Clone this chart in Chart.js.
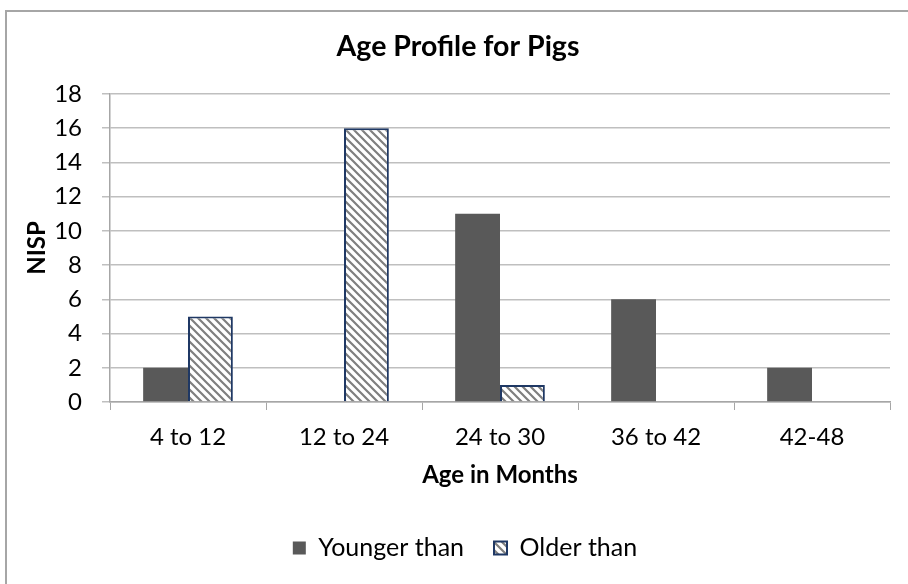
<!DOCTYPE html>
<html>
<head>
<meta charset="utf-8">
<script src="https://cdn.jsdelivr.net/npm/chart.js@4.4.1/dist/chart.umd.min.js"></script>
<style>
  html, body { margin: 0; padding: 0; background: #fff; overflow: hidden; }
  #wrap { position: relative; width: 908px; height: 584px; overflow: hidden; }
  #frame { position: absolute; left: 5px; top: 10px; width: 1000px; height: 1000px;
           border-left: 2px solid #a6a6a6; border-top: 2px solid #a6a6a6; box-sizing: border-box; }
  canvas { position: absolute; left: 0; top: 0; }
</style>
</head>
<body>
<div id="wrap">
  <div id="frame"></div>
  <canvas id="c" width="908" height="584"></canvas>
</div>
<script>
// Age classes (months) and bone counts per class
const categories = ['4 to 12', '12 to 24', '24 to 30', '36 to 42', '42-48'];
const youngerThan = [2, 0, 11, 6, 2];
const olderThan = [5, 16, 1, 0, 0];
const yTicks = [0, 2, 4, 6, 8, 10, 12, 14, 16, 18];

const FONT = 'Lato, "Liberation Sans", sans-serif';

// Diagonal hatch fill for the "Older than" series
function hatchPattern() {
  const s = 8;
  const p = document.createElement('canvas');
  p.width = s; p.height = s;
  const g = p.getContext('2d');
  g.fillStyle = '#ffffff';
  g.fillRect(0, 0, s, s);
  g.strokeStyle = '#7f7f7f';
  g.lineWidth = 2.2;
  g.beginPath();
  g.moveTo(-2, -2); g.lineTo(s + 2, s + 2);
  g.moveTo(-2, s - 2); g.lineTo(2, s + 2);
  g.moveTo(s - 2, -2); g.lineTo(s + 2, 2);
  g.stroke();
  return g.createPattern(p, 'repeat');
}

// Centre the title and legend on the framed chart rather than the canvas
const boxShift = {
  id: 'boxShift',
  afterLayout(chart) {
    if (chart.titleBlock) { chart.titleBlock.left += 26; }
    if (chart.legend) { chart.legend.left += 20; chart.legend.right += 20; }
  }
};

const ctx = document.getElementById('c').getContext('2d');
const hatch = hatchPattern();

new Chart(ctx, {
  type: 'bar',
  data: {
    labels: categories,
    datasets: [
      {
        label: 'Younger than',
        data: youngerThan,
        backgroundColor: '#595959',
        borderWidth: 0,
        barPercentage: 1.0,
        categoryPercentage: 0.575
      },
      {
        label: 'Older than',
        data: olderThan,
        backgroundColor: hatch,
        borderColor: '#1f3864',
        borderWidth: 2,
        barPercentage: 1.0,
        categoryPercentage: 0.575
      }
    ]
  },
  plugins: [boxShift],
  options: {
    responsive: false,
    animation: false,
    layout: { padding: { left: 0, right: 18, top: 0, bottom: 13.5 } },
    plugins: {
      title: {
        display: true,
        text: 'Age Profile for Pigs',
        color: '#000',
        font: { family: FONT, size: 28.5, weight: 'bold' },
        padding: { top: 30, bottom: 29.8 }
      },
      legend: {
        position: 'bottom',
        labels: {
          color: '#000',
          font: { family: FONT, size: 25 },
          boxWidth: 13,
          boxHeight: 13,
          padding: 30
        }
      },
      tooltip: { enabled: false }
    },
    scales: {
      x: {
        grid: {
          drawOnChartArea: false,
          drawTicks: true,
          tickLength: 8,
          color: '#a6a6a6',
          offset: true
        },
        border: { color: '#a6a6a6', width: 1.5 },
        ticks: { color: '#000', font: { family: FONT, size: 24 }, padding: 13 },
        title: {
          display: true,
          text: 'Age in Months',
          color: '#000',
          font: { family: FONT, size: 24, weight: 'bold' },
          padding: { top: 0, bottom: 16 }
        },
        afterFit(scale) { scale.height = 103.5; }
      },
      y: {
        min: 0,
        max: 18,
        afterBuildTicks(scale) { scale.ticks = yTicks.map(v => ({ value: v })); },
        grid: { color: '#bfbfbf', lineWidth: 1.5, tickLength: 8 },
        border: { color: '#a6a6a6', width: 1.5 },
        ticks: { color: '#000', font: { family: FONT, size: 24 }, padding: 20 },
        title: {
          display: true,
          text: 'NISP',
          color: '#000',
          font: { family: FONT, size: 24, weight: 'bold' },
          padding: { top: 23, bottom: 0 }
        },
        afterFit(scale) { scale.width = 110; }
      }
    }
  }
});
</script>
</body>
</html>
